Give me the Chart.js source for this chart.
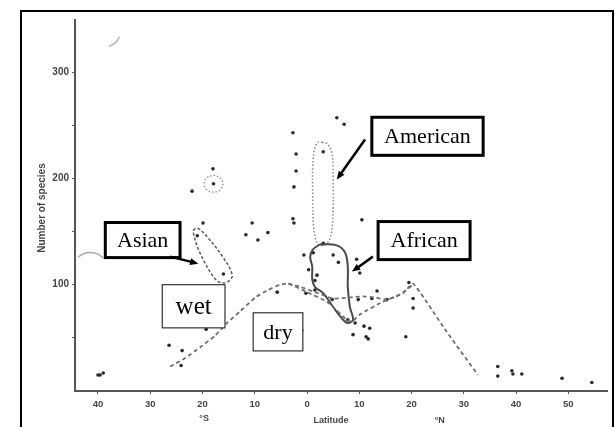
<!DOCTYPE html>
<html>
<head>
<meta charset="utf-8">
<script src="https://cdn.jsdelivr.net/npm/chart.js@4"></script>
<style>
  html, body { margin: 0; padding: 0; background: #fff; }
  #chart { display: block; }
</style>
</head>
<body>
<canvas id="chart" width="615" height="427"></canvas>
<script>
// axis ranges and ticks
const latMin = -44.4;
const latMax = 57.4;
const speciesMax = 349;
const latTicks = [-40, -30, -20, -10, 0, 10, 20, 30, 40, 50];
const speciesTicks = [50, 100, 150, 200, 250, 300];
const speciesLabelled = [100, 200, 300];

// scattered sites (latitude, number of species)
const siteLat = [
  -2.7, -2.1, -2.1, -2.5, -18, -17.9, -22, 5.7, 7.1, 3.1,
  -21, -16, -19.9, -10.5, -11.7, -9.4, -7.5, -2.7, -2.5, -0.6,
  0.3, -5.7, -19.3, -26.4, -23.9, -24.1, -40, -39.6, -39, -1,
  10.5, 3.1, 1.2, 5, 6, 9.5, 10.1, 1.9, 1.5, 1.5,
  -0.2, 4.8, 9.8, 12.4, 13.4, 15.3, 7.8, 9.2, 10.9, 12,
  8.8, 11.3, 11.7, 18.9, 19.5, 20.3, 20.3, 36.5, 36.5, 39.2,
  39.4, 41.1, 48.8, 54.5
];
const siteSpecies = [
  243, 223, 207, 192, 209, 195, 188, 257, 251, 225,
  146, 110, 158, 158, 147, 142, 149, 162, 158, 128,
  114, 93, 58, 43, 38, 24, 15, 15, 17, 57,
  161, 139, 130, 128, 121, 124, 111, 109, 104, 95,
  92, 86, 86, 87, 94, 86, 67, 64, 61, 59,
  53, 51, 49, 51, 102, 87, 78, 23, 14, 19,
  16, 16, 12, 8
];

// curve through one group of sites (long dashed line)
const curveALat = [-26.2, -23.3, -20.5, -17.6, -15.3, -12.8, -9.9, -7.5, -5.2, -3.6, 0, 3.8, 7.6, 8.6, 10.1, 14.5, 18.4, 20.3, 26.4, 32.7];
const curveASpecies = [23, 31, 41, 52, 64, 75, 88, 95, 100, 101, 93, 84, 67, 65, 72, 84, 92, 101, 58, 15];

// second curve (short dashed line)
const curveBLat = [-3.6, -1.3, 2.1, 5.0, 8.2, 10.7, 13.0, 15.3, 17.8, 20.3];
const curveBSpecies = [101, 98, 92, 87, 88, 89, 88, 86, 91, 100];

// African outline (solid)
const africaLat = [2.5, 5.7, 7.3, 7.8, 7.8, 8.2, 8.8, 7.8, 6.9, 5.0, 3.1, 1.5, 1.0, 1.0, 0.6, 1.1, 2.5];
const africaSpecies = [138, 137, 130, 117, 98, 79, 67, 64, 67, 79, 92, 98, 105, 117, 126, 133, 138];

// American outline (dotted)
const americaLat = [2.9, 4.0, 4.8, 5.0, 5.0, 4.6, 3.6, 2.1, 1.3, 1.1, 1.1, 1.5, 2.1, 2.9];
const americaSpecies = [234, 232, 223, 199, 171, 147, 138, 138, 152, 180, 213, 229, 234, 234];

// Asian outline (dashed)
const asiaLat = [-21.4, -21.8, -20.5, -18, -16.6, -15.1, -14.3, -16.1, -19.1, -20.8, -21.4];
const asiaSpecies = [153, 150, 130, 108, 102, 103, 109, 126, 145, 153, 153];

// small dotted ring round one site
const ringLat = [-17.9, -16.6, -16.1, -16.6, -17.9, -19.2, -19.7, -19.2, -17.9];
const ringSpecies = [203, 200.5, 195, 189.5, 187, 189.5, 195, 200.5, 203];

// stray pen strokes on the scan
const strokeLat = [-43.8, -42.2, -40.1, -39.0];
const strokeSpecies = [126, 130, 129, 125];
const stroke2Lat = [-37.9, -36.6, -35.9];
const stroke2Species = [324, 328, 333];

// annotation boxes: text, lat left, species top, lat right, species bottom
const boxTexts = ["American", "Asian", "African", "wet", "dry"];
const boxLat1 = [12.4, -38.6, 13.6, -27.7, -10.3];
const boxTop = [257.5, 158.5, 159.4, 100, 73.6];
const boxLat2 = [33.7, -24.3, 31.2, -15.7, -0.8];
const boxBottom = [221.7, 125.5, 123.6, 59.4, 37.7];
const boxHeavy = [true, true, true, false, false];
const boxFontSize = [22, 22, 22, 25, 22];

// arrows from box to outline
const arrowFromLat = [11.1, -26.2, 12.6];
const arrowFromSpecies = [236.5, 126.4, 126.4];
const arrowToLat = [5.7, -20.8, 8.6];
const arrowToSpecies = [199, 119.8, 112.3];

function toPoints(xs, ys) {
  return xs.map((x, i) => ({ x: x, y: ys[i] }));
}

function outline(data, color, dash, width, tension) {
  return {
    data: data,
    showLine: true,
    fill: false,
    borderColor: color,
    borderWidth: width,
    borderDash: dash,
    pointRadius: 0,
    tension: tension,
  };
}

const framePlugin = {
  id: "frame",
  afterDraw(chart) {
    const ctx = chart.ctx;
    const xs = chart.scales.x;
    const ys = chart.scales.y;
    ctx.save();

    // outer frame
    ctx.strokeStyle = "#000";
    ctx.lineWidth = 2;
    ctx.strokeRect(21, 11, 592, 420);

    // axis titles
    ctx.fillStyle = "#444";
    ctx.font = "bold 9px 'Liberation Sans', Arial, sans-serif";
    ctx.textAlign = "center";
    ctx.textBaseline = "middle";
    ctx.fillText("Latitude", xs.getPixelForValue(4.6), 421);
    ctx.fillText("°S", xs.getPixelForValue(-19.7), 419);
    ctx.fillText("°N", xs.getPixelForValue(25.4), 421);
    ctx.save();
    ctx.translate(42, 208);
    ctx.rotate(-Math.PI / 2);
    ctx.font = "bold 10px 'Liberation Sans', Arial, sans-serif";
    ctx.fillText("Number of species", 0, 0);
    ctx.restore();

    // boxes
    boxTexts.forEach((t, i) => {
      const x1 = xs.getPixelForValue(boxLat1[i]);
      const x2 = xs.getPixelForValue(boxLat2[i]);
      const y1 = ys.getPixelForValue(boxTop[i]);
      const y2 = ys.getPixelForValue(boxBottom[i]);
      ctx.fillStyle = "#fff";
      ctx.fillRect(x1, y1, x2 - x1, y2 - y1);
      ctx.strokeStyle = boxHeavy[i] ? "#000" : "#333";
      ctx.lineWidth = boxHeavy[i] ? 3 : 1.2;
      ctx.strokeRect(x1, y1, x2 - x1, y2 - y1);
      ctx.fillStyle = "#000";
      ctx.font = boxFontSize[i] + "px 'Liberation Serif', 'Times New Roman', serif";
      ctx.textAlign = "center";
      ctx.textBaseline = "middle";
      ctx.fillText(t, (x1 + x2) / 2, (y1 + y2) / 2 + 1);
    });

    // arrows
    ctx.strokeStyle = "#000";
    ctx.fillStyle = "#000";
    ctx.lineWidth = 2.5;
    arrowFromLat.forEach((lat, i) => {
      const x1 = xs.getPixelForValue(lat);
      const y1 = ys.getPixelForValue(arrowFromSpecies[i]);
      const x2 = xs.getPixelForValue(arrowToLat[i]);
      const y2 = ys.getPixelForValue(arrowToSpecies[i]);
      const a = Math.atan2(y2 - y1, x2 - x1);
      const head = 9;
      const bx = x2 - Math.cos(a) * head * 0.8;
      const by = y2 - Math.sin(a) * head * 0.8;
      ctx.beginPath();
      ctx.moveTo(x1, y1);
      ctx.lineTo(bx, by);
      ctx.stroke();
      ctx.beginPath();
      ctx.moveTo(x2, y2);
      ctx.lineTo(x2 - head * Math.cos(a - 0.4), y2 - head * Math.sin(a - 0.4));
      ctx.lineTo(x2 - head * Math.cos(a + 0.4), y2 - head * Math.sin(a + 0.4));
      ctx.closePath();
      ctx.fill();
    });
    ctx.restore();
  },
};

new Chart(document.getElementById("chart"), {
  type: "scatter",
  data: {
    datasets: [
      outline(toPoints(curveALat, curveASpecies), "#6f6f6f", [4, 3], 1.8, 0.15),
      outline(toPoints(curveBLat, curveBSpecies), "#6f6f6f", [4, 3], 1.8, 0.2),
      outline(toPoints(africaLat, africaSpecies), "#4a4a4a", [], 2, 0.35),
      outline(toPoints(americaLat, americaSpecies), "#8a8a8a", [1.5, 2], 1.5, 0.35),
      outline(toPoints(asiaLat, asiaSpecies), "#5a5a5a", [3, 2], 1.5, 0.35),
      outline(toPoints(ringLat, ringSpecies), "#8a8a8a", [1.5, 2], 1.3, 0.4),
      outline(toPoints(strokeLat, strokeSpecies), "#a8a8a8", [], 1.5, 0.4),
      outline(toPoints(stroke2Lat, stroke2Species), "#b8b8b8", [], 1.5, 0.4),
      {
        data: toPoints(siteLat, siteSpecies),
        pointRadius: 1.8,
        pointBackgroundColor: "#2a2a2a",
        pointBorderWidth: 0,
      },
    ],
  },
  options: {
    responsive: false,
    animation: false,
    layout: { padding: { left: 0, right: 8, top: 20, bottom: 0 } },
    plugins: {
      legend: { display: false },
      tooltip: { enabled: false },
    },
    scales: {
      x: {
        type: "linear",
        min: latMin,
        max: latMax,
        afterFit(scale) {
          scale.height = 36;
        },
        afterBuildTicks(scale) {
          scale.ticks = latTicks.map((v) => ({ value: v }));
        },
        border: { color: "#555", width: 2 },
        grid: { drawOnChartArea: false, drawTicks: true, tickLength: 3, color: "#555" },
        ticks: {
          padding: 5,
          color: "#444",
          font: { family: "'Liberation Sans', Arial, sans-serif", size: 9.5, weight: "bold" },
          callback: (v) => String(Math.abs(v)),
        },
      },
      y: {
        type: "linear",
        min: 0,
        max: speciesMax,
        afterFit(scale) {
          scale.width = 75;
        },
        afterBuildTicks(scale) {
          scale.ticks = speciesTicks.map((v) => ({ value: v }));
        },
        border: { color: "#555", width: 2 },
        grid: { drawOnChartArea: false, drawTicks: true, tickLength: 3, color: "#555" },
        ticks: {
          padding: 3,
          color: "#444",
          font: { family: "'Liberation Sans', Arial, sans-serif", size: 10, weight: "bold" },
          callback: (v) => (speciesLabelled.includes(v) ? String(v) : ""),
        },
      },
    },
  },
  plugins: [framePlugin],
});
</script>
</body>
</html>
